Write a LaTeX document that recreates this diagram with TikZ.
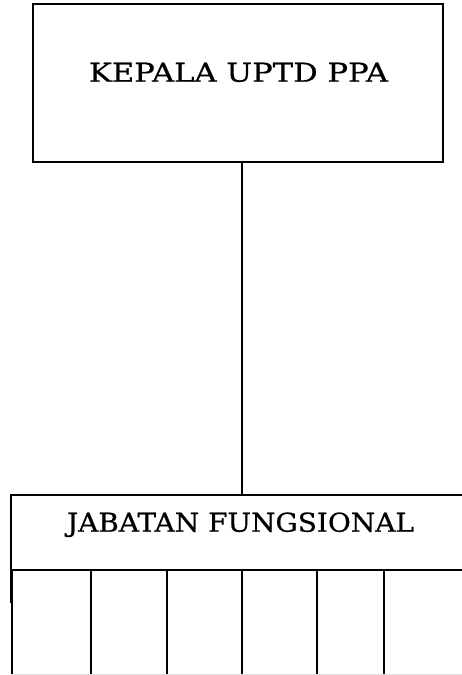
\documentclass[tikz,border=0pt]{standalone}
\usepackage{fontspec}
\setmainfont{DejaVu Serif}[FakeBold=0.6]
\tikzset{
  boxline/.style={line width=2pt},
  conn/.style={line width=1.8pt},
  lbl/.style={font=\fontsize{26}{30}\selectfont, inner sep=0pt, anchor=base},
}
\begin{document}
\begin{tikzpicture}[x=1pt,y=1pt]
\useasboundingbox (0,0) rectangle (462,675);
% top box
\node[draw, boxline, minimum width=410pt, minimum height=158pt, inner sep=0pt] (kepala) at (238,592) {};
\node[lbl] (kepalatext) at (238.5,593.3) {\resizebox{299pt}{\height}{KEPALA UPTD PPA}};
% bottom header (open at the right edge)
\coordinate (jftop) at (242,180);
\coordinate (jfl) at (10.5,180);
\coordinate (jfr) at (462,180);
\coordinate (jfbl) at (10.5,72);
\draw[boxline] (jfbl) -- (jfl) -- (jfr);
\node[lbl] (jftext) at (240.5,143.3) {\resizebox{347pt}{\height}{JABATAN FUNGSIONAL}};
% connector
\draw[conn] (jftop |- kepala.south) -- (jftop);
% column row
\coordinate (rowl) at (12,105);
\coordinate (rowr) at (462,105);
\draw[conn] (rowl) -- (rowr);
\foreach \x [count=\i] in {12,91,167,242,317,384}{
  \coordinate (ct\i) at (\x,105);
  \coordinate (cb\i) at (\x,1);
  \draw[conn] (ct\i) -- (cb\i);
}
\coordinate (gl) at (12,0.7);
\coordinate (gr) at (462,0.7);
\draw[line width=1pt, black!12] (gl) -- (gr);
\end{tikzpicture}
\end{document}
